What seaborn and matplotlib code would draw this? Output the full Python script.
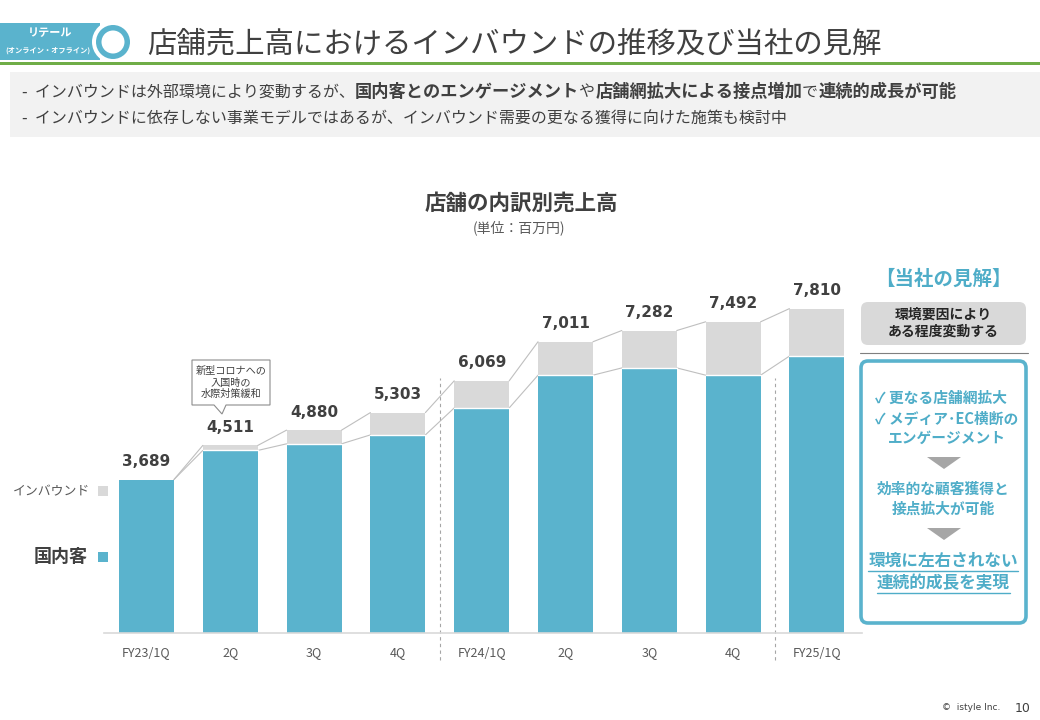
import matplotlib
matplotlib.use("Agg")
import matplotlib.pyplot as plt
import matplotlib.transforms as mtransforms
from matplotlib.patches import Rectangle, FancyBboxPatch, Polygon, Circle
import seaborn as sns
import pandas as pd

# ---------------- data ----------------
quarters = ["FY23/1Q", "FY23/2Q", "FY23/3Q", "FY23/4Q", "FY24/1Q",
            "FY24/2Q", "FY24/3Q", "FY24/4Q", "FY25/1Q"]
tick_labels = ["FY23/1Q", "2Q", "3Q", "4Q", "FY24/1Q", "2Q", "3Q", "4Q", "FY25/1Q"]
total_sales = [3689, 4511, 4880, 5303, 6069, 7011, 7282, 7492, 7810]
domestic_sales = [3689, 4390, 4550, 4765, 5415, 6205, 6380, 6205, 6665]

TEAL = "#5ab3cd"
TEAL_TXT = "#4fadc8"
GRAY = "#d9d9d9"
DARK = "#404040"

sns.set_theme(style="white")
plt.rcParams["font.family"] = ["Noto Sans CJK JP", "DejaVu Sans"]

W, H = 1040, 720
fig = plt.figure(figsize=(10.4, 7.2), dpi=100)
fig.patch.set_facecolor("white")

# ---------------- chart axes ----------------
base_px, top_px = 632.5, 280.0
ymax = 8500
ax = fig.add_axes([104 / W, 1 - base_px / H, 758 / W, (base_px - top_px) / H])
ax.set_facecolor("none")
df = pd.DataFrame({"quarter": quarters, "total": total_sales, "domestic": domestic_sales})
bw = 0.656
sns.barplot(data=df, x="quarter", y="total", order=quarters, color=GRAY,
            saturation=1, width=bw, linewidth=0, ax=ax, errorbar=None)
sns.barplot(data=df, x="quarter", y="domestic", order=quarters, color=TEAL,
            saturation=1, width=bw, linewidth=0, ax=ax, errorbar=None)
ax.set_xlim(-0.507, 8.538)
ax.set_ylim(0, ymax)
ax.set_xlabel("")
ax.set_ylabel("")
ax.set_yticks([])
for s in ["left", "right", "top"]:
    ax.spines[s].set_visible(False)
ax.spines["bottom"].set_color("#d9d9d9")
ax.spines["bottom"].set_linewidth(1.2)
ax.set_xticks(range(len(quarters)))
ax.set_xticklabels(tick_labels, fontsize=9, color="#595959")
ax.tick_params(axis="x", length=0, pad=10)

# white separator on top of the domestic part
for i, (t, d) in enumerate(zip(total_sales, domestic_sales)):
    if t > d:
        ax.plot([i - bw / 2, i + bw / 2], [d, d], color="white", lw=1.0, zorder=5)

# connector lines
for i in range(len(quarters) - 1):
    ax.plot([i + bw / 2, i + 1 - bw / 2], [total_sales[i], total_sales[i + 1]],
            color="#bfbfbf", lw=0.8, zorder=1)
    ax.plot([i + bw / 2, i + 1 - bw / 2], [domestic_sales[i], domestic_sales[i + 1]],
            color="#bfbfbf", lw=0.8, zorder=1)

# value labels
for i, v in enumerate(total_sales):
    ax.annotate(f"{v:,}", (i, v), xytext=(0, 13), textcoords="offset points",
                ha="center", va="center", fontsize=11, fontweight="bold",
                color=DARK, family="DejaVu Sans")

# dashed fiscal-year separators
trans = mtransforms.blended_transform_factory(ax.transData, ax.transAxes)
for xs in [3.5, 7.5]:
    ax.plot([xs, xs], [-0.078, 0.7215], transform=trans, clip_on=False,
            ls=(0, (3, 3)), color="#a6a6a6", lw=0.8)

# ---------------- overlay in pixel coords ----------------
ov = fig.add_axes([0, 0, 1, 1])
ov.set_xlim(0, W)
ov.set_ylim(H, 0)
ov.axis("off")
ov.set_zorder(3)

# header tab
ov.add_patch(Rectangle((0, 23), 100, 37, color=TEAL, lw=0))
ov.add_patch(Circle((113, 42), 21, color="white", lw=0))
ov.add_patch(Circle((113, 42), 17, color=TEAL, lw=0))
ov.add_patch(Circle((113, 42), 11.5, color="white", lw=0))
ov.text(50, 33, "リテール", color="white", fontsize=8, fontweight="bold",
        ha="center", va="center")
ov.text(48, 50, "(オンライン・オフライン)", color="white", fontsize=5.2,
        fontweight="bold", ha="center", va="center")
ov.text(147, 44, "店舗売上高におけるインバウンドの推移及び当社の見解",
        fontsize=21.2, color=DARK, ha="left", va="center")
ov.add_patch(Rectangle((0, 61.5), W, 3, color="#70ad47", lw=0))

# bullet box
ov.add_patch(Rectangle((10, 72), W - 10, 65, color="#f2f2f2", lw=0))

fig.canvas.draw()
renderer = fig.canvas.get_renderer()


def runs(x, y, parts, size, bsize):
    for txt, bold in parts:
        t = ov.text(x, y, txt, fontsize=bsize if bold else size,
                    fontweight="bold" if bold else "normal",
                    ha="left", va="center", color=DARK)
        bb = t.get_window_extent(renderer)
        x += bb.width * W / fig.bbox.width


runs(22, 92, [("-  インバウンドは外部環境により変動するが、", False),
              ("国内客とのエンゲージメント", True), ("や", False),
              ("店舗網拡大による接点増加", True), ("で", False),
              ("連続的成長が可能", True)], 11.5, 12.4)
runs(22, 119, [("-  インバウンドに依存しない事業モデルではあるが、インバウンド需要の更なる獲得に向けた施策も検討中", False)], 11.5, 12.4)

# chart title
ov.text(521, 203, "店舗の内訳別売上高", fontsize=15.5, fontweight="bold",
        color=DARK, ha="center", va="center")
ov.text(519, 228, "(単位：百万円)", fontsize=10, color="#595959",
        ha="center", va="center")

# left legend
ov.text(90, 492, "インバウンド", fontsize=9.3, color="#595959", ha="right", va="center")
ov.add_patch(Rectangle((98, 486), 10, 10, color=GRAY, lw=0))
ov.text(88, 557, "国内客", fontsize=13, fontweight="bold", color=DARK,
        ha="right", va="center")
ov.add_patch(Rectangle((98, 552), 10, 10, color=TEAL, lw=0))

# callout
call = Polygon([(192, 360), (270, 360), (270, 405), (226, 405), (222, 414),
                (214, 405), (192, 405)], closed=True, facecolor="white",
               edgecolor="#8c8c8c", lw=0.8)
ov.add_patch(call)
ov.text(231, 382.5, "新型コロナへの\n入国時の\n水際対策緩和", fontsize=7.3,
        color=DARK, ha="center", va="center", linespacing=1.15)

# right panel
ov.text(943, 279, "【当社の見解】", fontsize=14, fontweight="bold",
        color=TEAL_TXT, ha="center", va="center")
ov.add_patch(FancyBboxPatch((861, 302), 165, 43,
                            boxstyle="round,pad=0,rounding_size=7",
                            facecolor=GRAY, edgecolor="none"))
ov.text(943, 323.5, "環境要因により\nある程度変動する", fontsize=10,
        fontweight="bold", color="#262626", ha="center", va="center",
        linespacing=1.25)
ov.plot([860, 1028], [353, 353], color="#7f7f7f", lw=0.8)
ov.add_patch(FancyBboxPatch((861, 361), 165, 262,
                            boxstyle="round,pad=0,rounding_size=7",
                            facecolor="white", edgecolor=TEAL, lw=2.6))
ov.text(875, 398, "✓ 更なる店舗網拡大", fontsize=10.6, fontweight="bold",
        color=TEAL_TXT, ha="left", va="center")
ov.text(875, 419, "✓ メディア･EC横断の", fontsize=10.6, fontweight="bold",
        color=TEAL_TXT, ha="left", va="center")
ov.text(888, 438, "エンゲージメント", fontsize=10.6, fontweight="bold",
        color=TEAL_TXT, ha="left", va="center")
ov.add_patch(Polygon([(927, 457), (961, 457), (944, 469)], color="#a6a6a6", lw=0))
ov.text(943, 499, "効率的な顧客獲得と\n接点拡大が可能", fontsize=10.6,
        fontweight="bold", color=TEAL_TXT, ha="center", va="center",
        linespacing=1.3)
ov.add_patch(Polygon([(927, 528), (961, 528), (944, 540)], color="#a6a6a6", lw=0))
for yy, txt in [(561, "環境に左右されない"), (583, "連続的成長を実現")]:
    t = ov.text(943, yy, txt, fontsize=12, fontweight="bold",
                color=TEAL_TXT, ha="center", va="center")
    bb = t.get_window_extent(renderer)
    w = bb.width * W / fig.bbox.width
    ov.plot([943 - w / 2, 943 + w / 2], [yy + 10, yy + 10], color=TEAL_TXT, lw=1.0)

# footer
ov.text(1000, 708, "©  istyle Inc.", fontsize=6.5, color=DARK, ha="right",
        va="center", family=["DejaVu Sans"])
ov.text(1023, 709, "10", fontsize=9, color=DARK, ha="center", va="center",
        family=["DejaVu Sans"])

fig.savefig("out.png", dpi=100)
